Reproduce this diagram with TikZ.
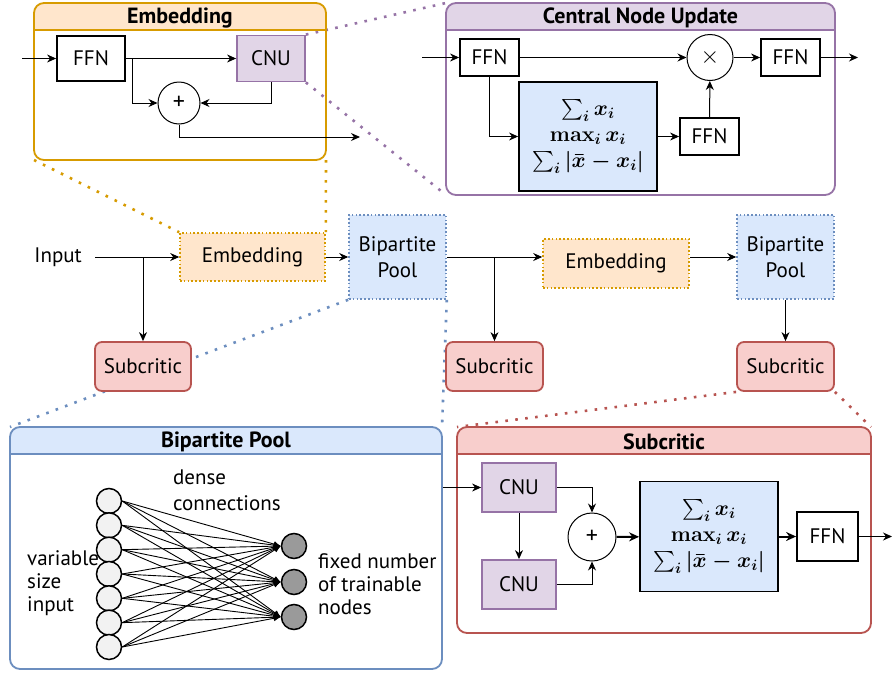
\RequirePackage{fix-cm}
\documentclass[tikz,border=0pt]{standalone}
\usepackage{amsmath}
\usepackage[no-math]{fontspec}
\setmainfont{PT Sans}
\usetikzlibrary{arrows.meta,calc}
\definecolor{embF}{HTML}{FFE6CC}
\definecolor{embB}{HTML}{D79B00}
\definecolor{cnuF}{HTML}{E1D5E7}
\definecolor{cnuB}{HTML}{9673A6}
\definecolor{bpF}{HTML}{DAE8FC}
\definecolor{bpB}{HTML}{6C8EBF}
\definecolor{scF}{HTML}{F8CECC}
\definecolor{scB}{HTML}{B85450}
\definecolor{inF}{HTML}{F2F2F2}
\definecolor{outF}{HTML}{9A9A9A}
\pgfdeclarelayer{paper}
\pgfdeclarelayer{under}
\pgfsetlayers{paper,under,main}

% panel with a coloured title bar: node, fill, border, title
\newcommand{\drawpanel}[4]{%
  \begin{scope}
    \clip (#1.north west) rectangle ($(#1.north east)+(0,27)$);
    \fill[#2, rounded corners=10pt] (#1.north west) rectangle (#1.south east);
  \end{scope}
  \draw[#3, line width=1.8pt] ($(#1.north west)+(0,27)$) -- ($(#1.north east)+(0,27)$);
  \draw[#3, line width=1.8pt, rounded corners=10pt] (#1.north west) rectangle (#1.south east);
  \node[font=\fontsize{22}{24}\selectfont\bfseries] (#1-title) at ($(#1.north)+(0,15)$) {#4};
}
% the three aggregations (sum, max, sum of deviations)
\newcommand{\aggtext}{$\sum_i x_i$\\$\max_i x_i$\\$\sum_i |\bar{x} - x_i|$}

\begin{document}
\begin{tikzpicture}[x=1pt, y=-1pt, font=\fontsize{21}{24}\selectfont,
  arr/.style={-{Stealth[length=9pt,width=8pt]}, line width=1pt},
  thickarr/.style={-{Stealth[length=10pt,width=9pt]}, line width=2pt},
  netarr/.style={-{Latex[length=7pt,width=6pt]}, line width=0.9pt},
  panelbox/.style={inner sep=0, outer sep=0, draw=none},
  ffn/.style={draw, line width=1.8pt, inner sep=0, minimum width=59pt, minimum height=37pt},
  cnubox/.style={draw=cnuB, fill=cnuF, line width=1.8pt, inner sep=0, minimum width=74pt, minimum height=49pt},
  agg/.style={draw, fill=bpF, line width=1.8pt, inner sep=0, align=center,
    minimum width=138pt, minimum height=110pt, font=\fontsize{21.5}{26}\selectfont\boldmath},
  opc/.style={circle, draw, line width=1pt, inner sep=0, font=\fontsize{24}{24}\selectfont},
  embsmall/.style={draw=embB, fill=embF, line width=1.6pt, dash pattern=on 1.6pt off 2.2pt,
    inner sep=0, minimum width=145pt, minimum height=48pt},
  bpsmall/.style={draw=bpB, fill=bpF, line width=1.6pt, dash pattern=on 1.6pt off 2.2pt,
    inner sep=0, minimum width=97pt, minimum height=84pt, align=center, font=\fontsize{21}{26}\selectfont},
  scsmall/.style={draw=scB, fill=scF, line width=1.8pt, rounded corners=7pt,
    inner sep=0, minimum width=96pt, minimum height=49pt},
  zoomline/.style={line width=2.6pt, dash pattern=on 2.6pt off 7.4pt},
  innode/.style={circle, draw, fill=inF, line width=1.5pt, inner sep=0, minimum size=25pt},
  outnode/.style={circle, draw, fill=outF, line width=1.5pt, inner sep=0, minimum size=25pt},
  note/.style={align=left, anchor=west, inner sep=0},
]
\begin{pgfonlayer}{paper}
  \fill[white] (0,0) rectangle (892,675);
\end{pgfonlayer}
\useasboundingbox (0,0) rectangle (892,675);

% ---------- Embedding detail ----------
\node[panelbox, minimum width=292pt, minimum height=157pt, anchor=north west] (embP) at (34,3) {};
\drawpanel{embP}{embF}{embB}{Embedding}
\node[ffn, minimum width=68pt, minimum height=45pt] (eFFN) at (91,58.5) {FFN};
\node[cnubox, minimum width=68pt, minimum height=46pt] (eCNU) at (271,58.5) {CNU};
\node[opc, minimum size=42pt] (ePlus) at (179,103) {+};
\coordinate (eIn) at (22,58.5);
\coordinate (eOut) at (360,137);
\draw[arr] (eIn) -- (eFFN);
\draw[arr] (eFFN) -- (eCNU);
\draw[arr] (eFFN.east) -- ++(7,0) |- (ePlus.west);
\draw[arr] (eCNU.south) |- (ePlus.east);
\draw[arr] (ePlus.south) |- (eOut);

% ---------- Central Node Update detail ----------
\node[panelbox, minimum width=389pt, minimum height=192pt, anchor=north west] (cnuP) at (446,3) {};
\drawpanel{cnuP}{cnuF}{cnuB}{Central Node Update}
\node[ffn] (cF1) at (489.5,57.5) {FFN};
\node[opc, minimum size=46pt] (cX) at (710,57.5) {$\times$};
\node[ffn] (cF2) at (790.5,57.5) {FFN};
\node[agg, minimum height=109pt] (cAgg) at (588,136.5) {\aggtext};
\node[ffn] (cF3) at (709.5,136.5) {FFN};
\coordinate (cIn) at (422,57.5);
\coordinate (cOut) at (858,57.5);
\draw[arr] (cIn) -- (cF1);
\draw[arr] (cF1) -- (cX);
\draw[arr] (cX) -- (cF2);
\draw[arr] (cF2) -- (cOut);
\draw[arr] (cF1.south) |- (cAgg.west);
\draw[arr] (cAgg) -- (cF3);
\draw[arr] (cF3) -- (cX);

% ---------- main pipeline ----------
\node[anchor=east, inner sep=0] (input) at (82,257) {Input};
\node[embsmall] (mEmb1) at (252.5,257) {Embedding};
\node[bpsmall] (mBP1) at (397.5,257) {Bipartite\\Pool};
\node[scsmall] (mSub1) at (143,366.5) {Subcritic};
\node[embsmall, minimum width=146pt, minimum height=49pt] (mEmb2) at (616,263.5) {Embedding};
\node[bpsmall] (mBP2) at (785.5,257) {Bipartite\\Pool};
\node[scsmall, minimum width=97pt] (mSub2) at (494.5,366.5) {Subcritic};
\node[scsmall, minimum width=97pt] (mSub3) at (785.5,366.5) {Subcritic};

\draw[arr] ([xshift=13pt]input.east) -- (mEmb1.west);
\draw[arr] (input.east -| mSub1.north) -- (mSub1.north);
\draw[arr] (mEmb1) -- (mBP1);
\draw[arr] (mBP1.east) -- (mBP1.east -| mEmb2.west);
\draw[arr] (mBP1.east -| mSub2.north) -- (mSub2.north);
\draw[arr] (mBP1.east -| mEmb2.east) -- (mBP1.east -| mBP2.west);
\draw[arr] (mBP2) -- (mSub3);

% ---------- Bipartite Pool detail ----------
\node[panelbox, minimum width=432pt, minimum height=242pt, anchor=north west] (bpP) at (10,427) {};
\drawpanel{bpP}{bpF}{bpB}{Bipartite Pool}
\foreach \k in {1,...,7}
  \node[innode] (i\k) at (109,{501+24.33*(\k-1)}) {};
\foreach \k/\yy in {1/546,2/582,3/617}
  \node[outnode] (o\k) at (294,\yy) {};
\foreach \a in {1,...,7}
  \foreach \b in {1,2,3}
    \draw[netarr] (i\a.east) -- (o\b.west);
\node[note, font=\fontsize{21}{26}\selectfont] (dense) at (173,490) {dense\\connections};
\node[note, font=\fontsize{21}{23}\selectfont] (varin) at (27,583) {variable\\size\\input};
\node[note, font=\fontsize{21}{23}\selectfont] (fixn) at (318,584) {fixed number\\of trainable\\nodes};

% ---------- Subcritic detail ----------
\node[panelbox, minimum width=414pt, minimum height=206pt, anchor=north west] (scP) at (457,427) {};
\drawpanel{scP}{scF}{scB}{Subcritic}
\node[cnubox] (sC1) at (519,487.5) {CNU};
\node[cnubox] (sC2) at (519,584.5) {CNU};
\node[opc, minimum size=48pt] (sPlus) at (592,537) {+};
\node[agg] (sAgg) at (709,536.5) {\aggtext};
\node[draw, line width=1.8pt, inner sep=0, minimum width=61pt, minimum height=49pt] (sF) at (827.5,536.5) {FFN};
\coordinate (sIn) at (443,487.5);
\coordinate (sOut) at (892,536.5);
\draw[arr] (sIn) -- (sC1);
\draw[arr] (sC1.east) -| (sPlus.north);
\draw[arr] (sC1) -- (sC2);
\draw[arr] (sC2.east) -| (sPlus.south);
\draw[thickarr] (sPlus) -- (sAgg);
\draw[thickarr] (sAgg) -- (sF);
\draw[arr] (sF) -- (sOut);

% ---------- zoom guides ----------
\begin{pgfonlayer}{under}
  \draw[zoomline, embB] (embP.south west) -- (mEmb1.north west);
  \draw[zoomline, embB] (embP.south east) -- (mEmb1.north east);
  \draw[zoomline, cnuB] (eCNU.north east) -- (cnuP.north west);
  \draw[zoomline, cnuB] (eCNU.south east) -- (cnuP.south west);
  \draw[zoomline, bpB] (mBP1.south west) -- (bpP.north west);
  \draw[zoomline, bpB] (mBP1.south east) -- (bpP.north east);
  \draw[zoomline, scB] (mSub3.south west) -- (scP.north west);
  \draw[zoomline, scB] (mSub3.south east) -- (scP.north east);
\end{pgfonlayer}
\end{tikzpicture}
\end{document}
